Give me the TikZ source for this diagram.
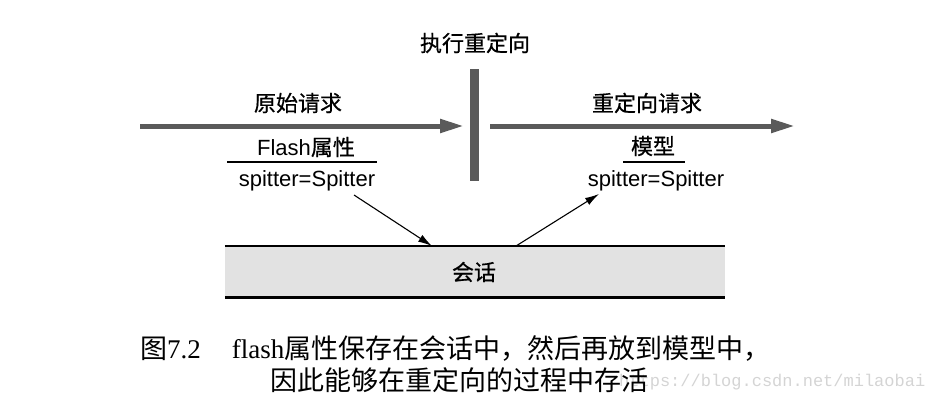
\documentclass[tikz,border=0pt]{standalone}
\usepackage{fontspec}
\setmainfont{Liberation Sans}
\newfontfamily\cjk{Noto Sans CJK SC}
\newfontfamily\cjklbl[FakeBold=0.6]{Noto Sans CJK SC}
\newfontfamily\capserif{Liberation Serif}
\newfontfamily\wmfont{Liberation Mono}
\usetikzlibrary{arrows.meta}
\definecolor{arrowgray}{HTML}{5A5A5A}
\definecolor{sessionfill}{HTML}{E2E2E2}
\begin{document}
\begin{tikzpicture}[x=1pt,y=-1pt,
  lbl/.style={inner sep=0pt, font=\cjklbl\fontsize{22}{26}\selectfont},
  attr/.style={inner sep=0pt, font=\fontsize{22}{26}\selectfont},
  captext/.style={inner sep=0pt, anchor=west, font=\fontsize{27}{30}\selectfont},
  bigarrow/.style={draw=arrowgray, line width=5pt, -{Triangle[length=24pt,width=13pt]}},
  thinarrow/.style={draw=black, line width=1.1pt, -{Latex[length=14pt,width=8pt]}},
  attrrule/.style={draw=black, line width=1.5pt},
]
\useasboundingbox (0,0) rectangle (937,404);

% redirect bar
\node[lbl] (exec) at (475,43) {执行重定向};
\fill[arrowgray] (470,69) rectangle (479,181);
\node[inner sep=0pt, minimum width=9pt, minimum height=112pt] (bar) at (474.5,125) {};

% request arrows
\coordinate (a0) at (140,126);
\coordinate (a1) at (464,126);
\coordinate (b0) at (490,126);
\coordinate (b1) at (795,126);
\draw[bigarrow] (a0) -- (a1);
\draw[bigarrow] (b0) -- (b1);
\node[lbl] (orig) at (298,103) {原始请求};
\node[lbl] (redir) at (647,103) {重定向请求};

% left attribute block
\node[attr] (flashattr) at (306,147) {Flash{\cjklbl 属性}};
\coordinate (l0) at (227,162);
\coordinate (l1) at (377,162);
\draw[attrrule] (l0) -- (l1);
\node[attr] (spl) at (307,181) {spitter=Spitter};

% right attribute block
\node[lbl] (model) at (653,146) {模型};
\coordinate (r0) at (623,162);
\coordinate (r1) at (685,162);
\draw[attrrule] (r0) -- (r1);
\node[attr] (spr) at (656,181) {spitter=Spitter};

% session
\fill[sessionfill] (225,246) rectangle (725,297);
\node[inner sep=0pt, minimum width=500pt, minimum height=51pt] (session) at (475,271.5) {};
\draw[black, line width=1.5pt] (session.north west) -- (session.north east);
\draw[black, line width=2.6pt] (session.south west) -- (session.south east);
\node[lbl] (sesslbl) at (474,272) {会话};

% thin arrows
\coordinate (s1) at (354,195);
\coordinate (t1) at (432,246);
\coordinate (s2) at (516,246);
\coordinate (t2) at (599,194);
\draw[thinarrow] (s1) -- (t1);
\draw[thinarrow] (s2) -- (t2);

% watermark
\node[inner sep=0pt, anchor=base west, text=black!17, font=\wmfont\fontsize{17}{20}\selectfont] (wm) at (619,386) {https://blog.csdn.net/milaobai};

% caption
\node[captext] (cap1) at (140,348) {{\cjk 图}{\capserif 7.2}\hspace{31pt}{\capserif flash}{\cjk 属性保存在会话中，然后再放到模型中，}};
\node[captext] (cap2) at (270,380) {{\cjk 因此能够在重定向的过程中存活}};
\end{tikzpicture}
\end{document}
